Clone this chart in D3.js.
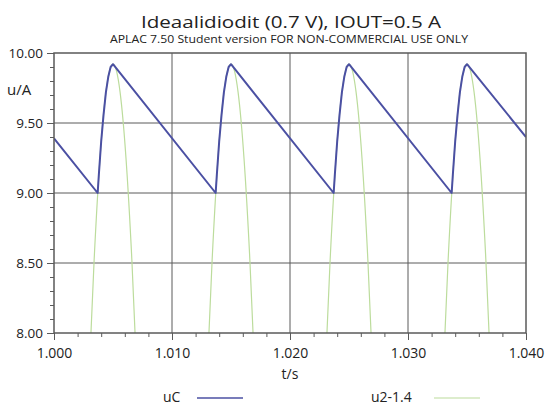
<!DOCTYPE html>
<html>
<head>
<meta charset="utf-8">
<script src="https://cdn.jsdelivr.net/npm/d3@7"></script>
<style>
  body { margin: 0; background: #fff; }
  text { font-family: 'Open Sans', 'Liberation Sans', sans-serif; fill: #222; }
</style>
</head>
<body>
<div id="container"></div>
<script>
// data
var title = 'Ideaalidiodit (0.7 V), IOUT=0.5 A',
	subtitle = 'APLAC 7.50 Student version FOR NON-COMMERCIAL USE ONLY';

var xTicks = [1.000, 1.010, 1.020, 1.030, 1.040],
	yTicks = [8.00, 8.50, 9.00, 9.50, 10.00];

var seriesNames = ['uC', 'u2-1.4'];

// uC : capacitor voltage (sawtooth)
var uC_t = [1.0000,
	1.0037, 1.0038, 1.0039, 1.0040, 1.0042, 1.0044, 1.0046, 1.0048, 1.0050,
	1.0137, 1.0138, 1.0139, 1.0140, 1.0142, 1.0144, 1.0146, 1.0148, 1.0150,
	1.0237, 1.0238, 1.0239, 1.0240, 1.0242, 1.0244, 1.0246, 1.0248, 1.0250,
	1.0337, 1.0338, 1.0339, 1.0340, 1.0342, 1.0344, 1.0346, 1.0348, 1.0350,
	1.0400];
var uC_v = [9.39,
	9.00, 9.13, 9.25, 9.37, 9.56, 9.72, 9.83, 9.90, 9.92,
	9.00, 9.13, 9.25, 9.37, 9.56, 9.72, 9.83, 9.90, 9.92,
	9.00, 9.13, 9.25, 9.37, 9.56, 9.72, 9.83, 9.90, 9.92,
	9.00, 9.13, 9.25, 9.37, 9.56, 9.72, 9.83, 9.90, 9.92,
	9.40];

// u2-1.4 : rectified source, only the tops are visible (null = gap)
var u2_t = [
	1.0029, 1.0034, 1.0039, 1.0044, 1.0047, 1.0050, 1.0053, 1.0056, 1.0061, 1.0066, 1.0071, null,
	1.0129, 1.0134, 1.0139, 1.0144, 1.0147, 1.0150, 1.0153, 1.0156, 1.0161, 1.0166, 1.0171, null,
	1.0229, 1.0234, 1.0239, 1.0244, 1.0247, 1.0250, 1.0253, 1.0256, 1.0261, 1.0266, 1.0271, null,
	1.0329, 1.0334, 1.0339, 1.0344, 1.0347, 1.0350, 1.0353, 1.0356, 1.0361, 1.0366, 1.0371];
var u2_v = [
	7.55, 8.52, 9.25, 9.72, 9.87, 9.92, 9.87, 9.72, 9.25, 8.52, 7.55, null,
	7.55, 8.52, 9.25, 9.72, 9.87, 9.92, 9.87, 9.72, 9.25, 8.52, 7.55, null,
	7.55, 8.52, 9.25, 9.72, 9.87, 9.92, 9.87, 9.72, 9.25, 8.52, 7.55, null,
	7.55, 8.52, 9.25, 9.72, 9.87, 9.92, 9.87, 9.72, 9.25, 8.52, 7.55];

var width = 547,
	height = 409;

var margin = { top: 53, right: 21, bottom: 76, left: 54 },
	blue = '#4b50a3',
	green = '#bcdc9c',
	gridColor = '#5a5a5a';

var canvas = d3.select('#container').append('svg')
	.attr('width', width)
	.attr('height', height);

var xScale = d3.scaleLinear()
	.domain([xTicks[0], xTicks[xTicks.length - 1]])
	.range([margin.left, width - margin.right]);

var yScale = d3.scaleLinear()
	.domain([yTicks[0], yTicks[yTicks.length - 1]])
	.range([height - margin.bottom, margin.top]);

// titles
canvas.append('text')
	.attr('x', 291).attr('y', 28)
	.attr('text-anchor', 'middle')
	.attr('font-size', 16)
	.attr('font-weight', 500)
	.attr('textLength', 300)
	.attr('lengthAdjust', 'spacingAndGlyphs')
	.text(title);

canvas.append('text')
	.attr('x', 289).attr('y', 43)
	.attr('text-anchor', 'middle')
	.attr('font-size', 11.5)
	.attr('textLength', 358)
	.attr('lengthAdjust', 'spacingAndGlyphs')
	.text(subtitle);

// grid
canvas.append('g').selectAll('line')
	.data(xTicks.slice(1, -1))
	.enter().append('line')
		.attr('x1', (d) => xScale(d)).attr('x2', (d) => xScale(d))
		.attr('y1', yScale.range()[0]).attr('y2', yScale.range()[1])
		.attr('stroke', gridColor);

canvas.append('g').selectAll('line')
	.data(yTicks.slice(1, -1))
	.enter().append('line')
		.attr('y1', (d) => yScale(d)).attr('y2', (d) => yScale(d))
		.attr('x1', xScale.range()[0]).attr('x2', xScale.range()[1])
		.attr('stroke', gridColor);

// axes: minor then major ticks
var yMinor = d3.range(8.1, 10, 0.1).filter((d) => Math.abs(d * 2 - Math.round(d * 2)) > 1e-6);
var xMinor = d3.range(1.002, 1.040, 0.002).filter((d) => Math.abs(d * 100 - Math.round(d * 100)) > 1e-6);

function styleAxis(g) {
	g.select('.domain').remove();
	g.selectAll('line').attr('stroke', gridColor);
}

canvas.append('g')
	.attr('transform', `translate(${margin.left},0)`)
	.call(d3.axisLeft(yScale).tickValues(yMinor).tickSize(4).tickFormat(''))
	.call(styleAxis);

canvas.append('g')
	.attr('transform', `translate(${margin.left},0)`)
	.call(d3.axisLeft(yScale).tickValues(yTicks).tickSize(7).tickPadding(4).tickFormat(d3.format('.2f')))
	.call(styleAxis)
	.selectAll('text')
		.attr('font-size', 13.5)
		.attr('font-family', "'Open Sans', sans-serif")
		.attr('fill', '#222');

canvas.append('g')
	.attr('transform', `translate(0,${height - margin.bottom})`)
	.call(d3.axisBottom(xScale).tickValues(xMinor).tickSize(4).tickFormat(''))
	.call(styleAxis);

canvas.append('g')
	.attr('transform', `translate(0,${height - margin.bottom})`)
	.call(d3.axisBottom(xScale).tickValues(xTicks).tickSize(7).tickPadding(8).tickFormat(d3.format('.3f')))
	.call(styleAxis)
	.selectAll('text')
		.attr('font-size', 14)
		.attr('font-family', "'Open Sans', sans-serif")
		.attr('fill', '#222');

// axis names
canvas.append('text')
	.attr('x', 7).attr('y', 95)
	.attr('font-size', 15)
	.text('u/A');

canvas.append('text')
	.attr('x', 290).attr('y', 379)
	.attr('text-anchor', 'middle')
	.attr('font-size', 14)
	.text('t/s');

// lines
canvas.append('clipPath').attr('id', 'plot')
	.append('rect')
		.attr('x', margin.left).attr('y', margin.top)
		.attr('width', width - margin.left - margin.right)
		.attr('height', height - margin.top - margin.bottom);

var u2Data = u2_t.map((t, i) => ({ t: t, v: u2_v[i] }));
var uCData = uC_t.map((t, i) => ({ t: t, v: uC_v[i] }));

var line = d3.line()
	.defined((d) => d.t !== null)
	.x((d) => xScale(d.t))
	.y((d) => yScale(d.v));

canvas.append('path')
	.datum(u2Data)
	.attr('clip-path', 'url(#plot)')
	.attr('fill', 'none')
	.attr('stroke', green)
	.attr('stroke-width', 1.2)
	.attr('d', line.curve(d3.curveMonotoneX));

canvas.append('path')
	.datum(uCData)
	.attr('clip-path', 'url(#plot)')
	.attr('fill', 'none')
	.attr('stroke', blue)
	.attr('stroke-width', 2)
	.attr('stroke-linejoin', 'round')
	.attr('d', line.curve(d3.curveLinear));

// frame
canvas.append('rect')
	.attr('x', margin.left).attr('y', margin.top)
	.attr('width', width - margin.left - margin.right)
	.attr('height', height - margin.top - margin.bottom)
	.attr('fill', 'none')
	.attr('stroke', gridColor)
	.attr('stroke-width', 1.5);

// legend
var legend = [
	{ name: seriesNames[0], color: blue, x: 163, lx: 197, w: 1.5 },
	{ name: seriesNames[1], color: green, x: 371, lx: 434, w: 1.2 }
];

var lg = canvas.append('g').selectAll('g')
	.data(legend)
	.enter().append('g');

lg.append('text')
	.attr('x', (d) => d.x).attr('y', 402)
	.attr('font-size', 14)
	.text((d) => d.name);

lg.append('line')
	.attr('x1', (d) => d.lx).attr('x2', (d) => d.lx + 46)
	.attr('y1', 398).attr('y2', 398)
	.attr('stroke', (d) => d.color)
	.attr('stroke-width', (d) => d.w);
</script>
</body>
</html>
